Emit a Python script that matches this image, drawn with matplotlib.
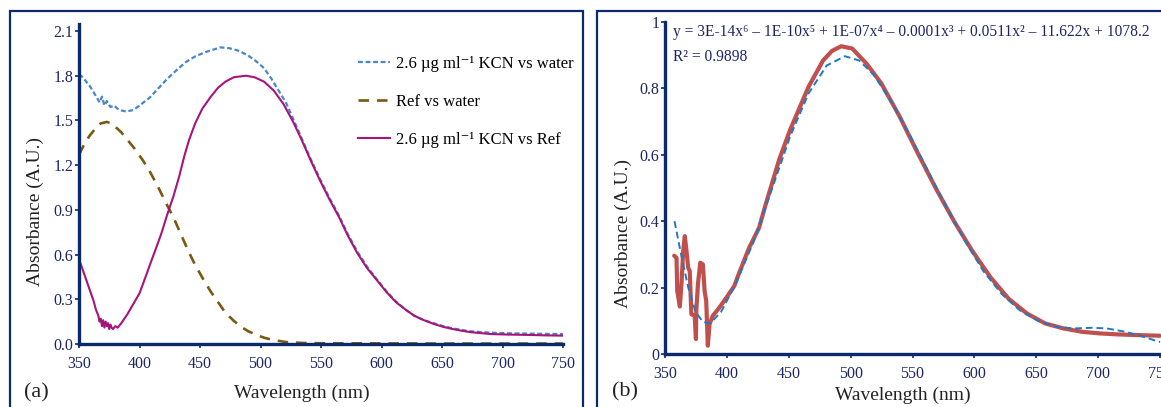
import numpy as np
import matplotlib
matplotlib.use("Agg")
import matplotlib.pyplot as plt
from matplotlib.patches import Rectangle

plt.rcParams['font.family'] = ['Liberation Serif', 'DejaVu Serif']

# ---- panel (a) data ----
wl_water = [350, 353, 356, 359, 362, 365, 367, 369, 371, 373, 376, 379, 383, 389, 395,
            400, 408, 415, 423, 431, 438, 446, 455, 467, 474, 481, 489, 496, 503, 509,
            515, 521, 527, 534, 541, 549, 557, 565, 572, 580, 588, 596, 604, 612, 620,
            627, 635, 643, 651, 659, 667, 674, 690, 705, 721, 735, 750]
kcn_water = [1.81, 1.79, 1.76, 1.73, 1.69, 1.65, 1.62, 1.66, 1.60, 1.63, 1.59, 1.60, 1.57, 1.56, 1.57,
             1.60, 1.65, 1.71, 1.78, 1.84, 1.89, 1.93, 1.96, 1.99, 1.985, 1.97, 1.94, 1.90, 1.85, 1.78,
             1.70, 1.62, 1.51, 1.38, 1.25, 1.11, 0.98, 0.86, 0.74, 0.62, 0.52, 0.435, 0.355, 0.285, 0.23,
             0.19, 0.16, 0.14, 0.12, 0.105, 0.093, 0.085, 0.076, 0.072, 0.070, 0.068, 0.067]

wl_ref = [350, 355, 359, 364, 368, 373, 377, 381, 385, 390, 396, 403, 409, 415, 421,
          428, 434, 440, 446, 453, 459, 465, 471, 478, 484, 490, 497, 503, 510, 521,
          535, 550, 600, 650, 750]
ref_water = [1.27, 1.35, 1.40, 1.45, 1.48, 1.49, 1.48, 1.45, 1.42, 1.37, 1.31, 1.23, 1.15, 1.06, 0.96,
             0.85, 0.74, 0.63, 0.53, 0.43, 0.35, 0.28, 0.21, 0.155, 0.115, 0.085, 0.06, 0.042, 0.028, 0.013,
             0.007, 0.005, 0.004, 0.003, 0.003]

wl_kcn = [350, 353, 356, 359, 362, 364, 366, 367, 368, 369, 370, 371, 372, 373, 374,
          375, 376, 377, 378, 380, 382, 385, 390, 395, 400, 405, 409, 414, 418, 423,
          428, 433, 437, 441, 446, 452, 459, 465, 471, 478, 488, 495, 503, 511, 519,
          527, 534, 541, 549, 557, 565, 572, 580, 588, 596, 604, 612, 620, 627, 635,
          643, 651, 659, 667, 674, 690, 705, 721, 735, 750]
kcn_ref = [0.57, 0.50, 0.43, 0.36, 0.29, 0.23, 0.19, 0.15, 0.17, 0.12, 0.16, 0.11, 0.15, 0.12, 0.14,
           0.10, 0.13, 0.11, 0.10, 0.12, 0.11, 0.14, 0.20, 0.27, 0.34, 0.45, 0.54, 0.65, 0.74, 0.87,
           0.99, 1.13, 1.26, 1.37, 1.48, 1.58, 1.66, 1.72, 1.76, 1.79, 1.80, 1.79, 1.76, 1.70, 1.61,
           1.49, 1.37, 1.24, 1.10, 0.97, 0.85, 0.73, 0.61, 0.51, 0.43, 0.35, 0.28, 0.23, 0.19, 0.16,
           0.135, 0.115, 0.10, 0.088, 0.079, 0.067, 0.063, 0.061, 0.058, 0.056]

# ---- panel (b) data ----
wl_meas = [357.4, 359.3, 359.9, 362, 363.3, 364.7, 366, 367.4, 368.7, 370, 371.3, 374, 375, 375.3,
           376.6, 378.5, 380.6, 382, 383.3, 384.6, 386, 388.6, 394, 400.6, 406, 410, 418, 426,
           431.3, 442.4, 451.2, 466, 477.7, 485, 492.4, 501.3, 513, 524.8, 539.5, 554, 569,
           583.7, 598.4, 613, 627.8, 642.5, 657.2, 672, 686.7, 701.4, 716, 731, 750]
abs_meas = [0.296, 0.29, 0.19, 0.143, 0.21, 0.31, 0.355, 0.31, 0.26, 0.25, 0.12, 0.115, 0.045, 0.13,
            0.21, 0.275, 0.27, 0.19, 0.16, 0.025, 0.09, 0.115, 0.14, 0.175, 0.205, 0.245, 0.32, 0.38,
            0.45, 0.587, 0.676, 0.805, 0.884, 0.913, 0.927, 0.92, 0.874, 0.815, 0.716, 0.607, 0.498,
            0.399, 0.31, 0.231, 0.166, 0.122, 0.092, 0.077, 0.067, 0.062, 0.059, 0.057, 0.055]

wl_fit = [357.7, 363, 368.8, 374.7, 380.6, 386.5, 395.3, 407, 421.8, 436.5, 451.2, 466, 480.7,
          495.4, 507, 518.9, 533.6, 548.3, 563, 577.8, 592.5, 607.2, 622, 636.6, 651.4, 666,
          680.8, 695.5, 707, 722, 736.7, 750]
abs_fit = [0.40, 0.30, 0.20, 0.127, 0.097, 0.092, 0.127, 0.21, 0.34, 0.498, 0.656, 0.785, 0.869,
           0.897, 0.884, 0.84, 0.755, 0.656, 0.548, 0.439, 0.34, 0.25, 0.181, 0.132, 0.10, 0.082,
           0.077, 0.079, 0.077, 0.067, 0.052, 0.036]

fit_eq = 'y = 3E-14x⁶ – 1E-10x⁵ + 1E-07x⁴ – 0.0001x³ + 0.0511x² – 11.622x + 1078.2'
fit_r2 = 'R² = 0.9898'

NAVY = '#0b2a6b'
TICKC = '#1c2566'

W, H = 1161, 407
fig = plt.figure(figsize=(W / 100, H / 100), dpi=100)


def px_axes(left, right, top, bottom):
    return fig.add_axes([left / W, 1 - bottom / H, (right - left) / W, (bottom - top) / H])


def style(ax):
    for s in ['top', 'right']:
        ax.spines[s].set_visible(False)
    for s in ['left', 'bottom']:
        ax.spines[s].set_color(NAVY)
        ax.spines[s].set_linewidth(2.4)
    ax.tick_params(axis='both', colors=NAVY, labelcolor=TICKC, labelsize=11.5,
                   width=1.2, length=3, direction='out')
    ax.tick_params(axis='x', pad=6)
    ax.tick_params(axis='y', pad=1)


# panel frames
fig.patches.append(Rectangle((10 / W, -0.1), (583 - 10) / W, 1.1 - 11 / H,
                             transform=fig.transFigure, fill=False, edgecolor=NAVY, lw=1.6))
fig.patches.append(Rectangle((597 / W, -0.1), 0.6, 1.1 - 11 / H,
                             transform=fig.transFigure, fill=False, edgecolor=NAVY, lw=1.6))

# ---- (a) ----
ax1 = px_axes(79, 563, 24, 344)
ax1.plot(wl_water, kcn_water, color='#4a86cc', lw=1.6, ls=(0, (2.2, 1.2)),
         label='2.6 µg ml⁻¹ KCN vs water')
ax1.plot(wl_ref, ref_water, color='#7a5a12', lw=1.9, ls=(0, (4, 3)), label='Ref vs water')
ax1.plot(wl_kcn, kcn_ref, color='#a6147c', lw=1.5, label='2.6 µg ml⁻¹ KCN vs Ref')
ax1.set_xlim(350, 750)
ax1.set_ylim(0, 2.147)
ax1.set_xticks(np.arange(350, 751, 50))
ax1.set_yticks(np.arange(0, 2.11, 0.3))
ax1.set_yticklabels([f'{v:.1f}' for v in np.arange(0, 2.11, 0.3)])
style(ax1)
leg = ax1.legend(loc='upper left', bbox_to_anchor=(350 / W, 1 - 48 / H),
                 bbox_transform=fig.transFigure, frameon=False, fontsize=12,
                 handlelength=1.9, handletextpad=0.35, labelspacing=1.3, borderpad=0)
fig.text(35 / W, 1 - 212 / H, 'Absorbance (A.U.)', rotation=90, ha='center', va='center',
         fontsize=14, color='#222222')
fig.text(302 / W, 1 - 393 / H, 'Wavelength (nm)', ha='center', va='center',
         fontsize=14, color='#222222')
fig.text(36 / W, 1 - 393 / H, '(a)', ha='center', va='center', fontsize=16, color='#222222')

# ---- (b) ----
ax2 = px_axes(665, 1161, 22, 354)
ax2.plot(wl_fit, abs_fit, color='#1e78c8', lw=1.4, ls=(0, (3.5, 2)), zorder=3)
ax2.plot(wl_meas, abs_meas, color='#c0504d', lw=3.0, solid_capstyle='round', zorder=2)
ax2.set_xlim(350, 750.8)
ax2.set_ylim(0, 1.0)
ax2.set_xticks(np.arange(350, 751, 50))
ax2.set_yticks([0, 0.2, 0.4, 0.6, 0.8, 1.0])
ax2.set_yticklabels(['0', '0.2', '0.4', '0.6', '0.8', '1'])
style(ax2)
fig.text(673 / W, 1 - 32 / H, fit_eq, ha='left', va='center', fontsize=11.2, color=TICKC)
fig.text(673 / W, 1 - 57 / H, fit_r2, ha='left', va='center', fontsize=11.2, color=TICKC)
fig.text(623 / W, 1 - 234 / H, 'Absorbance (A.U.)', rotation=90, ha='center', va='center',
         fontsize=14, color='#222222')
fig.text(903 / W, 1 - 395 / H, 'Wavelength (nm)', ha='center', va='center',
         fontsize=14, color='#222222')
fig.text(625 / W, 1 - 392 / H, '(b)', ha='center', va='center', fontsize=16, color='#222222')

fig.savefig('out.png', dpi=100)
